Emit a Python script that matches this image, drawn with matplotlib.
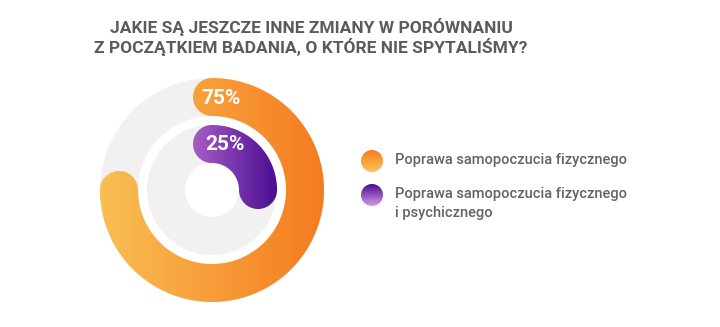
import numpy as np
import matplotlib
matplotlib.use("Agg")
import matplotlib.pyplot as plt
from matplotlib.patches import Polygon, Circle, Wedge
from matplotlib.colors import LinearSegmentedColormap

title_lines = ["JAKIE SĄ JESZCZE INNE ZMIANY W PORÓWNANIU",
               "Z POCZĄTKIEM BADANIA, O KTÓRE NIE SPYTALIŚMY?"]
labels = ["Poprawa samopoczucia fizycznego",
          "Poprawa samopoczucia fizycznego\ni psychicznego"]
values = [75, 25]
# left -> right gradient for arcs
arc_colors = [("#F9BF52", "#F57B20"), ("#A75EC4", "#4A0D93")]
# top -> bottom gradient for legend dots
dot_colors = [("#F67D22", "#FAC553"), ("#470C92", "#D79AE8")]

W, H = 720, 327
fig = plt.figure(figsize=(W / 100, H / 100), dpi=100)
ax = fig.add_axes([0, 0, 1, 1])
ax.set_xlim(0, W)
ax.set_ylim(H, 0)
ax.set_aspect("equal")
ax.axis("off")

cx, cy = 212, 190
rings = [(93, 38), (46, 38)]  # centre radius, width
gray = "#F1F1F1"

for r, w in rings:
    ax.add_patch(Wedge((cx, cy), r + w / 2, 0, 360, width=w, color=gray, lw=0))


def arc_polygon(r, w, frac):
    # thick arc starting at 12 o'clock going clockwise, with round caps
    a0 = np.pi / 2
    a1 = a0 - frac * 2 * np.pi
    t = np.linspace(a0, a1, 200)
    ro, ri = r + w / 2, r - w / 2
    outer = np.c_[cx + ro * np.cos(t), cy - ro * np.sin(t)]
    inner = np.c_[cx + ri * np.cos(t[::-1]), cy - ri * np.sin(t[::-1])]
    # end cap
    ex, ey = cx + r * np.cos(a1), cy - r * np.sin(a1)
    c = np.linspace(a1, a1 - np.pi, 60)
    cap1 = np.c_[ex + w / 2 * np.cos(c), ey - w / 2 * np.sin(c)]
    sx, sy = cx + r * np.cos(a0), cy - r * np.sin(a0)
    c = np.linspace(a0 + np.pi, a0, 60)
    cap0 = np.c_[sx + w / 2 * np.cos(c), sy - w / 2 * np.sin(c)]
    return np.vstack([outer, cap1, inner, cap0])


def grad_fill(patch, box, c1, c2, horizontal=True):
    ax.add_patch(patch)
    patch.set_visible(False)
    x0, x1, y0, y1 = box
    cmap = LinearSegmentedColormap.from_list("g", [c1, c2])
    g = np.linspace(0, 1, 256)
    img = g[None, :] if horizontal else g[:, None]
    im = ax.imshow(img, cmap=cmap, extent=[x0, x1, y1, y0],
                   interpolation="bicubic", aspect="auto", zorder=3)
    im.set_clip_path(patch)


for (r, w), v, (c1, c2) in zip(rings, values, arc_colors):
    pts = arc_polygon(r, w, v / 100)
    poly = Polygon(pts, closed=True)
    box = (pts[:, 0].min(), pts[:, 0].max(), pts[:, 1].min(), pts[:, 1].max())
    grad_fill(poly, box, c1, c2)
    ax.text(cx + 9 + (r == 46) * 4, cy - r + 1, f"{v}%", color="white",
            fontsize=15, fontweight="bold", family="Roboto",
            ha="center", va="center", zorder=5)

# title
for i, line in enumerate(title_lines):
    ax.text(311, 33 + i * 20, line, ha="center", va="baseline",
            fontsize=12.5, fontweight="bold", family="Roboto", color="#5B5B5B")

# legend
leg_y = [161, 195]
dr = 11
for y, lab, (c1, c2) in zip(leg_y, labels, dot_colors):
    dot = Circle((372, y), dr)
    grad_fill(dot, (372 - dr, 372 + dr, y - dr, y + dr), c1, c2,
              horizontal=False)
    ax.text(395, y - 8, lab, ha="left", va="top", fontsize=10.5,
            family="Roboto", fontweight="medium", color="#636363",
            linespacing=1.45)

ax.set_xlim(0, W)
ax.set_ylim(H, 0)
fig.savefig("out.png", dpi=100, facecolor="white")
